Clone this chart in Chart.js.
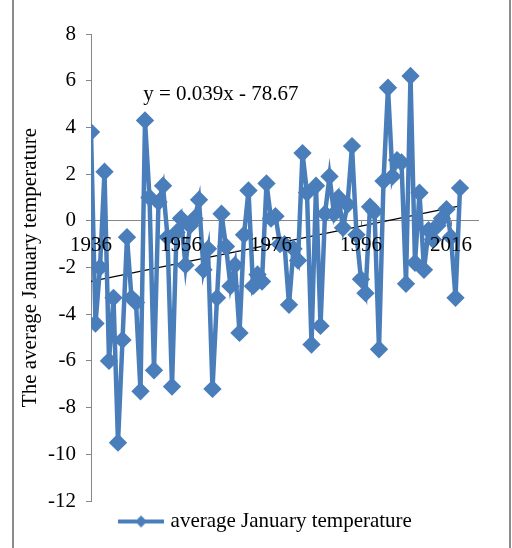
<!DOCTYPE html>
<html>
<head>
<meta charset="utf-8">
<script src="https://cdn.jsdelivr.net/npm/chart.js@4.4.1/dist/chart.umd.min.js"></script>
<style>
  html, body { margin: 0; padding: 0; background: #fff; }
  #wrap { position: relative; width: 512px; height: 548px; }
  #frame { position: absolute; left: 12px; top: 0; width: 499px; height: 548px;
           border-left: 2px solid #8c8c8c; border-right: 2px solid #8c8c8c; box-sizing: border-box; }
  canvas { position: absolute; left: 0; top: 0; }
</style>
</head>
<body>
<div id="wrap">
  <div id="frame"></div>
  <canvas id="chart" width="512" height="548"></canvas>
</div>
<script>
// январская температура по годам, 1936-2018
const firstYear = 1936;
const temps = [
  3.8, -4.4, -2.0, 2.1, -6.0, -3.3, -9.5, -5.1, -0.7, -3.3,
  -3.5, -7.3, 4.3, 1.0, -6.4, 0.8, 1.5, -0.7, -7.1, -0.5,
  0.1, -1.9, -0.2, 0.1, 0.9, -2.1, -1.2, -7.2, -3.3, 0.3,
  -1.1, -2.8, -1.9, -4.8, -0.6, 1.3, -2.8, -2.3, -2.6, 1.6,
  0.1, 0.2, -1.0, -1.0, -3.6, -1.2, -1.7, 2.9, 1.2, -5.3,
  1.5, -4.5, 0.3, 1.9, 0.3, 1.0, -0.3, 0.7, 3.2, -0.6,
  -2.5, -3.1, 0.6, 0.4, -5.5, 1.7, 5.7, 1.9, 2.6, 2.5,
  -2.7, 6.2, -1.8, 1.2, -2.1, -0.4, -0.8, -0.2, 0.1, 0.5,
  -0.7, -3.3, 1.4
];
const years = temps.map((_, i) => firstYear + i);
const xTickYears = [1936, 1956, 1976, 1996, 2016];
const yMin = -12, yMax = 8, yStep = 2;
const xMax = 2022;
const seriesName = 'average January temperature';
const trendText = 'y = 0.039x - 78.67';

const blue = '#4a7ebb';
const axisGray = '#868686';
const serif = "'Liberation Serif', 'DejaVu Serif', serif";
const fontSize = 21;

// линейный тренд (МНК)
function linearFit(xs, ys) {
  const n = xs.length;
  const mx = xs.reduce((a, b) => a + b, 0) / n;
  const my = ys.reduce((a, b) => a + b, 0) / n;
  let sxy = 0, sxx = 0;
  for (let i = 0; i < n; i++) {
    sxy += (xs[i] - mx) * (ys[i] - my);
    sxx += (xs[i] - mx) * (xs[i] - mx);
  }
  const k = sxy / sxx;
  return { k, b: my - k * mx };
}
const fit = linearFit(years, temps);
const trendX = [years[0], years[years.length - 1]];

// значок легенды: линия с ромбом
function legendIcon() {
  const c = document.createElement('canvas');
  c.width = 46; c.height = 14;
  const g = c.getContext('2d');
  g.strokeStyle = blue; g.lineWidth = 4;
  g.beginPath(); g.moveTo(0, 7); g.lineTo(46, 7); g.stroke();
  g.fillStyle = blue;
  g.beginPath(); g.moveTo(23, 1); g.lineTo(29, 7); g.lineTo(23, 13); g.lineTo(17, 7); g.closePath(); g.fill();
  return c;
}

const trendLabel = {
  id: 'trendLabel',
  afterLayout(chart) {
    // легенда в оригинале сдвинута вправо и чуть ниже
    const lg = chart.legend;
    if (lg) { lg.left += 19; lg.right += 19; lg.top += 4; lg.bottom += 4; }
  },
  afterDatasetsDraw(chart) {
    const { ctx, scales } = chart;
    ctx.save();
    ctx.font = fontSize + 'px ' + serif;
    ctx.fillStyle = '#000';
    ctx.textBaseline = 'middle';
    ctx.fillText(trendText, scales.x.getPixelForValue(1947.6), scales.y.getPixelForValue(5.4));
    ctx.restore();
  }
};

new Chart(document.getElementById('chart'), {
  type: 'line',
  data: {
    datasets: [{
      label: seriesName,
      data: years.map((y, i) => ({ x: y, y: temps[i] })),
      borderColor: blue,
      backgroundColor: blue,
      borderWidth: 4.5,
      pointStyle: 'rectRot',
      pointRadius: 6,
      pointHoverRadius: 6,
      tension: 0
    }, {
      label: 'trend',
      data: trendX.map(x => ({ x, y: fit.k * x + fit.b })),
      borderColor: '#000',
      borderWidth: 1.3,
      pointRadius: 0
    }]
  },
  plugins: [trendLabel],
  options: {
    responsive: false,
    animation: false,
    events: [],
    layout: { padding: { left: 18, right: 34, top: 34, bottom: 10 } },
    plugins: {
      tooltip: { enabled: false },
      legend: {
        position: 'bottom',
        labels: {
          color: '#000',
          font: { family: serif, size: fontSize },
          usePointStyle: true,
          pointStyleWidth: 38,
          padding: 6,
          filter: item => item.datasetIndex === 0,
          generateLabels: chart => {
            const items = Chart.defaults.plugins.legend.labels.generateLabels(chart);
            items.forEach(it => { it.pointStyle = legendIcon(); });
            return items;
          }
        }
      }
    },
    scales: {
      x: {
        type: 'linear',
        position: { y: 0 },
        min: firstYear,
        max: xMax,
        afterBuildTicks: s => { s.ticks = xTickYears.map(v => ({ value: v })); },
        grid: { drawOnChartArea: false, drawTicks: true, tickLength: 5, color: axisGray },
        border: { color: axisGray, width: 1 },
        ticks: {
          z: 1,
          color: '#000',
          font: { family: serif, size: fontSize },
          padding: 7,
          maxRotation: 0,
          callback: v => String(v)
        }
      },
      y: {
        min: yMin,
        max: yMax,
        afterFit: s => { s.width = 73; },
        grid: { drawOnChartArea: false, drawTicks: true, tickLength: 5, color: axisGray },
        border: { color: axisGray, width: 1 },
        ticks: {
          stepSize: yStep,
          color: '#000',
          font: { family: serif, size: fontSize },
          padding: 10
        },
        title: {
          display: true,
          text: 'The average January temperature',
          color: '#000',
          font: { family: serif, size: fontSize },
          padding: { top: 0, bottom: 0 }
        }
      }
    }
  }
});
</script>
</body>
</html>
